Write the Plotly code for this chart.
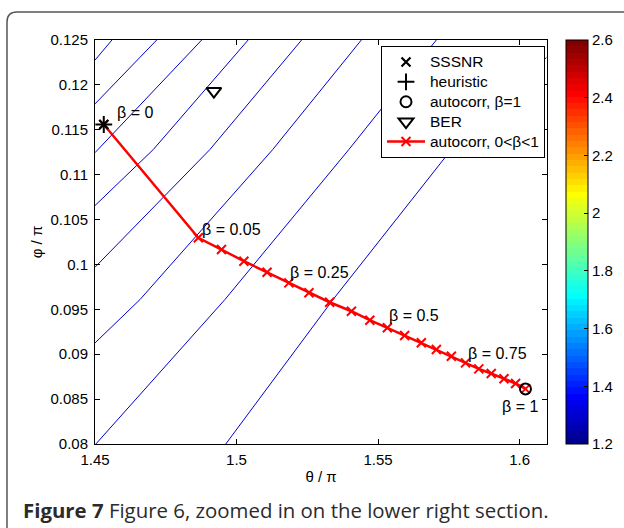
import plotly.graph_objects as go

# ---------------- data ----------------
beta = [0.00, 0.05, 0.10, 0.15, 0.20, 0.25, 0.30, 0.35, 0.40, 0.45, 0.50,
        0.55, 0.60, 0.65, 0.70, 0.75, 0.80, 0.85, 0.90, 0.95, 1.00]
theta_auto = [1.4531, 1.4865, 1.4947, 1.5026, 1.5108, 1.5185, 1.5256, 1.5329,
              1.5406, 1.5471, 1.5533, 1.5594, 1.5653, 1.5706, 1.5759, 1.5809,
              1.5856, 1.5900, 1.5945, 1.5986, 1.6021]
phi_auto = [0.11559, 0.10297, 0.10166, 0.10036, 0.09913, 0.09795, 0.09684,
            0.09579, 0.09479, 0.09379, 0.09294, 0.09208, 0.09127, 0.09052,
            0.08978, 0.08904, 0.08837, 0.08785, 0.08726, 0.08674, 0.08614]

sssnr_theta, sssnr_phi = [1.4531], [0.11559]
heur_theta, heur_phi = [1.4531], [0.11559]
ac1_theta, ac1_phi = [1.6021], [0.08614]
ber_theta, ber_phi = [1.4920], [0.11930]

# contour lines (iso-levels)
contour_theta = [
    [1.4500, 1.4560],
    [1.4500, 1.4718],
    [1.4500, 1.4877],
    [1.4500, 1.4706, 1.5041],
    [1.4500, 1.4906, 1.5230],
    [1.4500, 1.4659, 1.5128, 1.5441],
    [1.4503, 1.4959, 1.5397, 1.5706],
    [1.4962, 1.5341, 1.5759, 1.6095],
]
contour_phi = [
    [0.12276, 0.12500],
    [0.11788, 0.12500],
    [0.11245, 0.12500],
    [0.10656, 0.11280, 0.12500],
    [0.09969, 0.11280, 0.12500],
    [0.09126, 0.09609, 0.11280, 0.12500],
    [0.08000, 0.09609, 0.11280, 0.12500],
    [0.08000, 0.09609, 0.11280, 0.12305],
]
contour_level = [1.33, 1.33, 1.33, 1.33, 1.33, 1.33, 1.33, 1.33]

legend_names = ["SSSNR", "heuristic", "autocorr, β=1", "BER", "autocorr, 0&lt;β&lt;1"]

beta_label_values = ["0", "0.05", "0.25", "0.5", "0.75", "1"]
beta_label_theta = [1.4571, 1.4871, 1.5181, 1.5531, 1.5810, 1.5930]
beta_label_phi = [0.11688, 0.10387, 0.09908, 0.09430, 0.09007, 0.08418]

x_ticks = [1.45, 1.5, 1.55, 1.6]
x_ticktext = ["1.45", "1.5", "1.55", "1.6"]
y_ticks = [0.08, 0.085, 0.09, 0.095, 0.1, 0.105, 0.11, 0.115, 0.12, 0.125]
y_ticktext = ["0.08", "0.085", "0.09", "0.095", "0.1", "0.105", "0.11", "0.115", "0.12", "0.125"]
cb_ticks = [1.2, 1.4, 1.6, 1.8, 2.0, 2.2, 2.4, 2.6]
cb_ticktext = ["1.2", "1.4", "1.6", "1.8", "2", "2.2", "2.4", "2.6"]

# ---------------- style helpers ----------------
def matlab_jet(m=64):
    import math
    n = math.ceil(m / 4)
    u = [(i + 1) / n for i in range(n)] + [1.0] * (n - 1) + [(n - i) / n for i in range(n)]
    off = math.ceil(n / 2) - (1 if m % 4 == 1 else 0)
    g = [off + i + 1 for i in range(len(u))]
    r = [gi + n for gi in g]
    b = [gi - n for gi in g]
    J = [[0.0, 0.0, 0.0] for _ in range(m)]
    for idx, val in zip(r, u):
        if 1 <= idx <= m:
            J[idx - 1][0] = val
    for idx, val in zip(g, u):
        if 1 <= idx <= m:
            J[idx - 1][1] = val
    for idx, val in zip(b, u):
        if 1 <= idx <= m:
            J[idx - 1][2] = val
    scale = []
    for i, c in enumerate(J):
        col = "rgb(%d,%d,%d)" % tuple(round(255 * v) for v in c)
        scale.append([i / m, col])
        scale.append([(i + 1) / m, col])
    return scale

FONT = "Liberation Sans, Arial, sans-serif"
FS_TICK = 15
FS_TEXT = 16
FS_LEG = 13


def leg(name):
    return "<span style='font-size:15.5px'>%s</span>" % name


fig = go.Figure()

# contour lines (carry the colour bar through invisible markers)
cx, cy, cc = [], [], []
for xs, ys, lv in zip(contour_theta, contour_phi, contour_level):
    cx += xs + [None]
    cy += ys + [None]
    cc += [lv] * len(xs) + [lv]
fig.add_trace(go.Scatter(
    x=cx, y=cy, mode="lines+markers", showlegend=False, hoverinfo="skip",
    line=dict(color="rgb(0,0,205)", width=1),
    marker=dict(size=0, opacity=0, color=cc, colorscale=matlab_jet(), cmin=1.2, cmax=2.6,
                showscale=True,
                colorbar=dict(x=(566 - 95) / 452, xanchor="left", xpad=0, ypad=0,
                              y=0.5, yanchor="middle", len=404, lenmode="pixels",
                              thickness=22, thicknessmode="pixels",
                              outlinecolor="black", outlinewidth=1,
                              tickvals=cb_ticks, ticktext=cb_ticktext,
                              ticks="inside", ticklen=4, tickcolor="black",
                              tickfont=dict(family=FONT, size=FS_TICK, color="black"))),
))

# autocorr 0<β<1 path
fig.add_trace(go.Scatter(
    x=theta_auto, y=phi_auto, mode="lines+markers", name=leg(legend_names[4]),
    legendrank=5, customdata=beta,
    line=dict(color="rgb(255,0,0)", width=2.5),
    marker=dict(symbol="x-thin", size=9, line=dict(color="rgb(255,0,0)", width=2)),
))
fig.add_trace(go.Scatter(
    x=sssnr_theta, y=sssnr_phi, mode="markers", name=leg(legend_names[0]), legendrank=1,
    marker=dict(symbol="x-thin", size=9, color="black", line=dict(color="black", width=2.2)),
))
fig.add_trace(go.Scatter(
    x=heur_theta, y=heur_phi, mode="markers", name=leg(legend_names[1]), legendrank=2,
    marker=dict(symbol="cross-thin", size=12, color="black", line=dict(color="black", width=2)),
))
fig.add_trace(go.Scatter(
    x=ac1_theta, y=ac1_phi, mode="markers", name=leg(legend_names[2]), legendrank=3,
    marker=dict(symbol="circle-open", size=11, color="black", line=dict(color="black", width=2)),
))
fig.add_trace(go.Scatter(
    x=ber_theta, y=ber_phi, mode="markers", name=leg(legend_names[3]), legendrank=4,
    marker=dict(symbol="triangle-down-open", size=13, color="black", line=dict(color="black", width=2)),
))

annotations = []
for v, xx, yy in zip(beta_label_values, beta_label_theta, beta_label_phi):
    annotations.append(dict(x=xx, y=yy, xref="x", yref="y", text="β = " + v,
                            showarrow=False, xanchor="left", yanchor="middle",
                            font=dict(family=FONT, size=FS_TEXT, color="black")))
annotations.append(dict(
    x=(21 - 95) / 452, y=(444 - 510) / 404, xref="paper", yref="paper",
    text="<b>Figure 7</b> Figure 6, zoomed in on the lower right section.",
    showarrow=False, xanchor="left", yanchor="middle",
    font=dict(family="Open Sans, Noto Sans, sans-serif", size=20.4, color="#2b2b2b")))

# rounded page frame
fx0 = (7 - 95) / 452
fy0 = (444 - 12) / 404
rx, ry = 10 / 452, 10 / 404
frame_path = ("M 1.3,{y0} L {xa},{y0} Q {x0},{y0} {x0},{yb} L {x0},-0.4"
              .format(y0=fy0, xa=fx0 + rx, x0=fx0, yb=fy0 - ry))

axis_common = dict(showline=True, linecolor="black", linewidth=1, mirror="allticks",
                   ticks="inside", ticklen=5, tickcolor="black", showgrid=False,
                   zeroline=False, tickfont=dict(family=FONT, size=FS_TICK, color="black"))

fig.update_layout(
    width=624, height=528,
    margin=dict(l=95, r=77, t=40, b=84, autoexpand=False),
    paper_bgcolor="white", plot_bgcolor="white",
    xaxis=dict(range=[1.45, 1.6097], tickvals=x_ticks, ticktext=x_ticktext,
               ticklabelstandoff=2,
               title=dict(text="θ / π", standoff=4,
                          font=dict(family=FONT, size=FS_TICK, color="black")),
               **axis_common),
    yaxis=dict(range=[0.08, 0.125], tickvals=y_ticks, ticktext=y_ticktext,
               ticklabelstandoff=3,
               title=dict(text="φ / π", standoff=4,
                          font=dict(family=FONT, size=FS_TICK, color="black")),
               **axis_common),
    legend=dict(x=(381 - 95) / 452, y=(444 - 46) / 404, xanchor="left", yanchor="top",
                bgcolor="white", bordercolor="black", borderwidth=1,
                font=dict(family=FONT, size=FS_LEG, color="black"),
                tracegroupgap=0, itemsizing="trace", itemwidth=38),
    annotations=annotations,
    shapes=[dict(type="path", path=frame_path, xref="paper", yref="paper",
                 line=dict(color="#555555", width=1.5), layer="above")],
    showlegend=True,
)

fig.write_html("out.html", config={"displayModeBar": False},
               post_script="document.body.style.margin='0';document.body.style.padding='0';")
